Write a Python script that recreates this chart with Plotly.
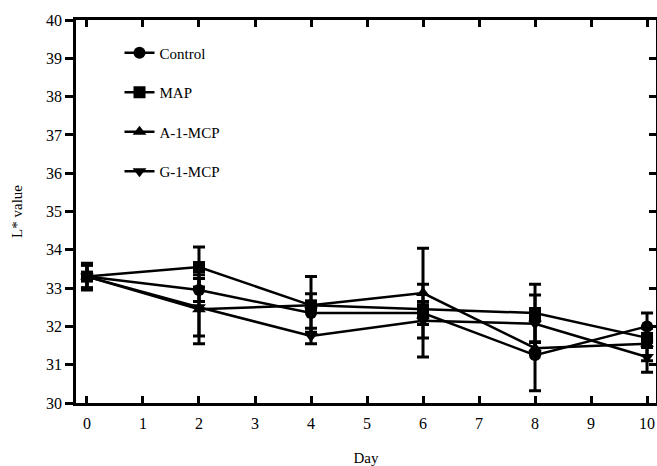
import plotly.graph_objects as go

days = [0, 2, 4, 6, 8, 10]
series_names = ["Control", "MAP", "A-1-MCP", "G-1-MCP"]
control = [33.3, 32.95, 32.35, 32.35, 31.25, 32.0]
control_err = [0.3, 0.3, 0.5, 0.3, 0.93, 0.35]
map_vals = [33.3, 33.55, 32.55, 32.45, 32.35, 31.7]
map_err = [0.3, 0.52, 0.75, 0.2, 0.75, 0.25]
a1mcp = [33.3, 32.45, 32.55, 32.87, 31.43, 31.55]
a1mcp_err = [0.3, 0.9, 0.1, 1.17, 0.15, 0.45]
g1mcp = [33.3, 32.5, 31.75, 32.15, 32.07, 31.2]
g1mcp_err = [0.35, 0.75, 0.2, 0.95, 0.75, 0.4]
symbols = ["circle", "square", "triangle-up", "triangle-down"]

x_ticks = list(range(0, 11))
y_ticks = list(range(30, 41))

FONT = "Liberation Serif, Times New Roman, serif"

fig = go.Figure()
for i, (name, vals, err) in enumerate(zip(series_names,
                                          [control, map_vals, a1mcp, g1mcp],
                                          [control_err, map_err, a1mcp_err, g1mcp_err])):
    fig.add_trace(go.Scatter(
        x=days, y=vals, name=name, mode="lines+markers",
        legendgroup=name,
        line=dict(color="black", width=2.5),
        marker=dict(symbol=symbols[i], size=12, color="black",
                    line=dict(color="black", width=0)),
        error_y=dict(type="data", array=err, visible=True,
                     color="black", thickness=3, width=6),
    ))

# invisible trace for right-side mirrored axis
fig.add_trace(go.Scatter(x=[0], y=[35], yaxis="y2", showlegend=False,
                         mode="markers", marker=dict(opacity=0),
                         hoverinfo="skip"))

fig.update_layout(
    width=657, height=466,
    margin=dict(l=76, r=1, t=20, b=63, autoexpand=False),
    paper_bgcolor="white", plot_bgcolor="white",
    font=dict(family=FONT, color="black", size=15),
    showlegend=True,
    legend=dict(x=0.075, y=0.957, xanchor="left", yanchor="top",
                bgcolor="rgba(0,0,0,0)", tracegroupgap=17,
                font=dict(family=FONT, size=15, color="black")),
    xaxis=dict(range=[-0.196, 10.16], tickvals=x_ticks,
               ticktext=[str(v) for v in x_ticks],
               showgrid=False, zeroline=False, automargin=False,
               showline=True, linecolor="black", linewidth=2.5,
               mirror="ticks", ticks="inside", ticklen=7, tickwidth=2.5,
               tickcolor="black", ticklabelstandoff=4,
               tickfont=dict(family=FONT, size=16, color="black"),
               title=dict(text="Day", font=dict(family=FONT, size=15),
                          standoff=22)),
    yaxis=dict(range=[30, 40], tickvals=y_ticks,
               ticktext=[str(v) for v in y_ticks],
               showgrid=False, zeroline=False, automargin=False,
               showline=True, linecolor="black", linewidth=2.5,
               ticks="outside", ticklen=8, tickwidth=2.5, tickcolor="black",
               tickfont=dict(family=FONT, size=16, color="black"),
               title=dict(text="L* value", font=dict(family=FONT, size=15),
                          standoff=20)),
    yaxis2=dict(range=[30, 40], tickvals=y_ticks, overlaying="y",
                side="right", showticklabels=False, showgrid=False,
                zeroline=False, showline=True, linecolor="black",
                automargin=False,
                linewidth=2.5, ticks="inside", ticklen=7, tickwidth=2.5,
                tickcolor="black"),
)

fig.write_html(
    "out.html",
    config={"displayModeBar": False},
    post_script="document.body.style.margin='0';document.body.style.overflow='hidden';",
)
